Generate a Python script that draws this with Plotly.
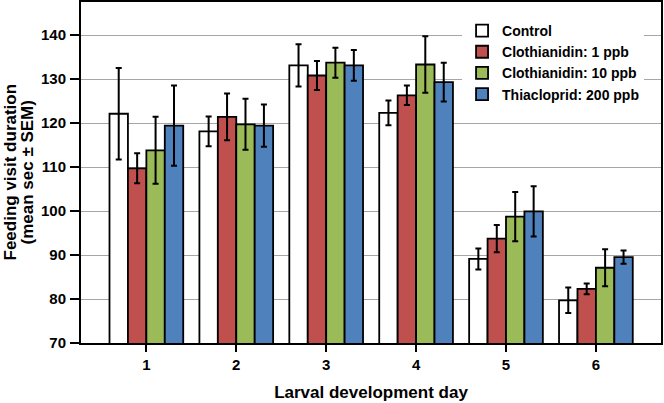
import plotly.graph_objects as go

days = [1, 2, 3, 4, 5, 6]
day_labels = ["1", "2", "3", "4", "5", "6"]

series_names = ["Control", "Clothianidin: 1 ppb", "Clothianidin: 10 ppb", "Thiacloprid: 200 ppb"]
control = [122.1, 118.1, 133.1, 122.3, 89.1, 79.7]
control_sem = [10.4, 3.4, 4.8, 2.8, 2.4, 2.9]
clo1 = [109.7, 121.4, 130.8, 126.3, 93.7, 82.3]
clo1_sem = [3.4, 5.3, 3.3, 2.2, 3.1, 1.2]
clo10 = [113.8, 119.7, 133.7, 133.3, 98.7, 87.1]
clo10_sem = [7.6, 5.8, 3.4, 6.4, 5.6, 4.2]
thia = [119.4, 119.4, 133.1, 129.3, 99.9, 89.5]
thia_sem = [9.1, 4.8, 3.5, 4.4, 5.7, 1.5]

y_ticks = [70, 80, 90, 100, 110, 120, 130, 140]

colors = ["#ffffff", "#c0504d", "#9bbb59", "#4f81bd"]
values = [control, clo1, clo10, thia]
sems = [control_sem, clo1_sem, clo10_sem, thia_sem]

FONT = "Liberation Sans, Arial, sans-serif"

fig = go.Figure()
for name, vals, err, col in zip(series_names, values, sems, colors):
    fig.add_trace(go.Bar(
        x=days, y=vals, name=name,
        marker=dict(color=col, line=dict(color="black", width=1.8)),
        error_y=dict(type="data", array=err, visible=True, color="black",
                     thickness=2, width=3),
    ))

fig.update_layout(
    width=664, height=403,
    margin=dict(l=81, r=3, t=2, b=60, autoexpand=False),
    paper_bgcolor="white", plot_bgcolor="white",
    barmode="group", bargap=0.18, bargroupgap=0,
    font=dict(family=FONT, color="black"),
    legend=dict(x=0.657, xanchor="left", y=0.962, yanchor="top",
                bgcolor="white", font=dict(size=14, family=FONT, weight="bold"),
                tracegroupgap=0),
    xaxis=dict(
        range=[0.273, 6.724], tickvals=days, ticktext=day_labels,
        showline=True, mirror=True, linecolor="black", linewidth=2,
        ticks="outside", ticklen=7, tickwidth=2, tickcolor="black",
        showgrid=False, zeroline=False, automargin=False,
        tickfont=dict(size=15, family=FONT, weight="bold"),
        title=dict(text="Larval development day", standoff=14,
                   font=dict(size=17, family=FONT, weight="bold")),
    ),
    yaxis=dict(
        range=[70, 147.5], tickvals=y_ticks,
        showline=True, mirror=True, linecolor="black", linewidth=2,
        ticks="outside", ticklen=9, tickwidth=2, tickcolor="black",
        showgrid=True, gridcolor="#a6a6a6", gridwidth=1.2, zeroline=False,
        automargin=False,
        tickfont=dict(size=15, family=FONT, weight="bold"),
        ticklabelstandoff=1,
    ),
    annotations=[
        dict(text="Feeding visit duration", textangle=-90, xref="paper", yref="paper",
             x=-0.1224, y=0.5, xanchor="center", yanchor="middle", showarrow=False,
             font=dict(size=17, family=FONT, weight="bold")),
        dict(text="(mean sec ± SEM)", textangle=-90, xref="paper", yref="paper",
             x=-0.0931, y=0.5, xanchor="center", yanchor="middle", showarrow=False,
             font=dict(size=17, family=FONT, weight="bold")),
    ],
)

fig.write_html("out.html", config={"displayModeBar": False},
               post_script="document.body.style.margin='0';document.body.style.overflow='hidden';")
